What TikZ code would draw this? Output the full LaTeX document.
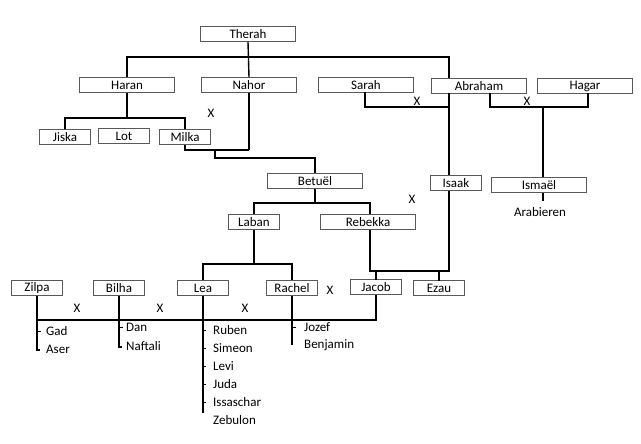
\documentclass[tikz,border=0pt]{standalone}
\usepackage{fontspec}
\setmainfont{Carlito}
\begin{document}
\begin{tikzpicture}[x=1pt,y=-1pt,
  bx/.style={draw=black!65,line width=0.8pt,inner sep=0pt,minimum height=15pt,font=\fontsize{13}{14}\selectfont},
  w/.style={bx,minimum width=95pt},
  s/.style={bx,minimum width=51pt},
  ln/.style={line width=1.4pt},
  lbl/.style={anchor=west,inner sep=0pt,font=\fontsize{13}{14}\selectfont},
  xx/.style={inner sep=0pt,font=\fontsize{13}{14}\selectfont}]
\useasboundingbox (0,0) rectangle (641,444);
\fill[white] (0,0) rectangle (641,444);
% boxes
\node[w] (therah) at (248,34) {Therah};
\node[w] (haran) at (127,85) {Haran};
\node[w] (nahor) at (249,85) {Nahor};
\node[w] (sarah) at (366,85) {Sarah};
\node[w] (abraham) at (479,86) {Abraham};
\node[w] (hagar) at (585,86) {Hagar};
\node[s] (jiska) at (65,137) {Jiska};
\node[s] (lot) at (124,136) {Lot};
\node[s] (milka) at (185,137) {Milka};
\node[w] (betuel) at (315,181) {Betuël};
\node[s] (isaak) at (456,183) {Isaak};
\node[w] (ismael) at (539,185) {Ismaël};
\node[lbl,anchor=center] (arab) at (540,212) {Arabieren};
\node[s] (laban) at (254,222) {Laban};
\node[w] (rebekka) at (368,222) {Rebekka};
\node[s] (zilpa) at (37,288) {Zilpa};
\node[s] (bilha) at (119,288) {Bilha};
\node[s] (lea) at (203,288) {Lea};
\node[s] (rachel) at (292,288) {Rachel};
\node[s] (jacob) at (376,287) {Jacob};
\node[s] (ezau) at (439,288) {Ezau};
% X marks
\node[xx] (x1) at (211,113) {X};
\node[xx] (x2) at (417,101) {X};
\node[xx] (x3) at (527,101) {X};
\node[xx] (x4) at (412,199) {X};
\node[xx] (x5) at (330,290) {X};
\node[xx] (x6) at (77,308) {X};
\node[xx] (x7) at (160,308) {X};
\node[xx] (x8) at (245,308) {X};
% children labels
\node[lbl] (gad) at (46,331) {Gad};
\node[lbl] (aser) at (46,349) {Aser};
\node[lbl] (dan) at (126,327) {Dan};
\node[lbl] (naftali) at (126,346) {Naftali};
\node[lbl] (ruben) at (213,330) {Ruben};
\node[lbl] (simeon) at (213,348) {Simeon};
\node[lbl] (levi) at (213,366) {Levi};
\node[lbl] (juda) at (213,384) {Juda};
\node[lbl] (issa) at (213,402) {Issaschar};
\node[lbl] (zebulon) at (213,420) {Zebulon};
\node[lbl] (jozef) at (304,327) {Jozef};
\node[lbl] (benjamin) at (304,345) {Benjamin};
% lines
\draw[ln] (therah.south) -- (nahor.north);
\draw[ln] (haran.north) |- (248,57) -| (449,78.5);
\draw[ln] (haran.south) -- (127,118);
\draw[ln] (jiska.north) |- (185,118) -- (milka.north);
\draw[ln] (nahor.south) -- (249,150);
\draw[ln] (milka.south) |- (215,150) -- (249,150);
\draw[ln] (215,150) |- (315,158) -- (betuel.north);
\draw[ln] (365,92.5) |- (449,107) -- (449,93.5);
\draw[ln] (449,107) -- (isaak.north -| 449,0);
\draw[ln] (490,93.5) |- (588,107) -- (588,93.5);
\draw[ln] (543,107) -- (543,177.5);
\draw[ln] (543,192.5) -- (543,201);
\draw[ln] (449,190.5) -- (449,271) -- (370,271) -- (370,229.5);
\draw[ln] (376,271) -- (376,279.5);
\draw[ln] (439,271) -- (439,280.5);
\draw[ln] (betuel.south) -- (315,203);
\draw[ln] (laban.north) |- (315,203) -| (rebekka.north -| 370,0);
\draw[ln] (laban.south) -- (254,264);
\draw[ln] (lea.north) |- (292,264) -- (rachel.north);
\draw[ln] (zilpa.south) -- (37,350) -- (40,350);
\draw[ln] (37,320) -- (376,320) -- (jacob.south);
\draw[ln] (bilha.south) -- (119,347) -- (122,347);
\draw[ln] (lea.south) -- (203,413);
\draw[ln] (rachel.south) -- (292,345);
\draw[line width=0.8pt] (37,331) -- (41,331);
\draw[line width=0.8pt] (119,327) -- (123,327);
\foreach \y in {330,348,366,384,402} \draw[line width=0.8pt] (203,\y) -- (206,\y);
\draw[line width=0.8pt] (292,327) -- (296,327);
\end{tikzpicture}
\end{document}
